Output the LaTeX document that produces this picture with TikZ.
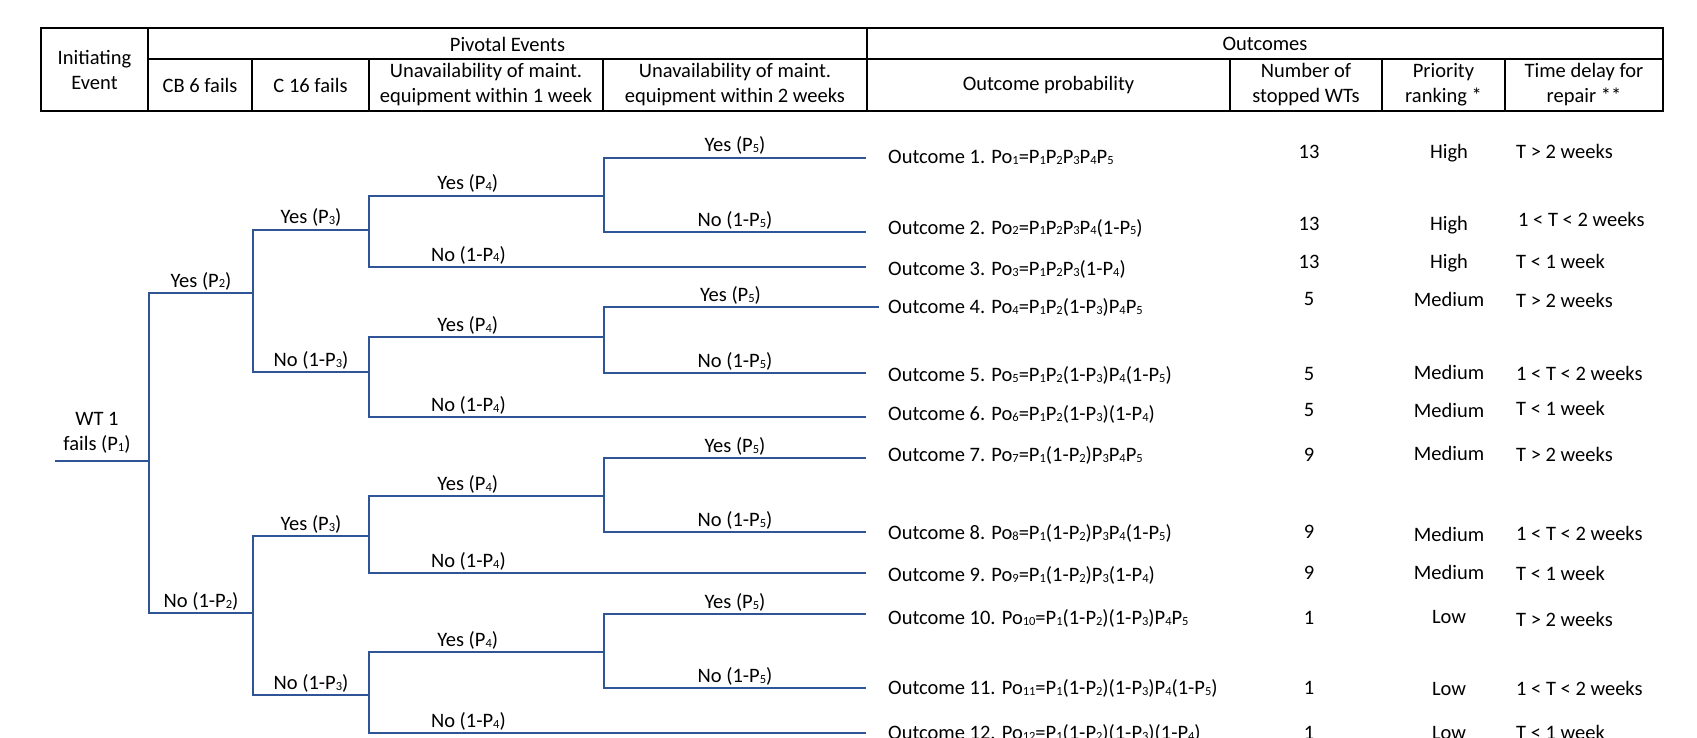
\documentclass[tikz,border=0pt]{standalone}
\usepackage{fontspec}
\setmainfont{Carlito}
\definecolor{treeblue}{RGB}{47,85,151}
\newcommand\ix[1]{\raisebox{-1pt}{\fontsize{12.5}{12.5}\selectfont #1}}

\begin{document}
\begin{tikzpicture}[x=1pt,y=-1pt,
  every node/.style={font=\fontsize{20.5}{25}\selectfont,inner sep=0pt},
  grid/.style={line width=2pt},
  branch/.style={draw=treeblue,line width=2pt},
  lab/.style={anchor=base,yshift=6pt},
  row/.style={anchor=base west},
  num/.style={anchor=base}]
  \useasboundingbox (0,0) rectangle (1697,738);

  % header table
  \draw[grid] (41,28) rectangle (1663,111);
  \draw[grid] (148,59) -- (1663,59);
  \draw[grid] (148,28) -- (148,111);
  \draw[grid] (867,28) -- (867,111);
  \draw[grid] (252,59) -- (252,111);
  \draw[grid] (369,59) -- (369,111);
  \draw[grid] (603,59) -- (603,111);
  \draw[grid] (1230,59) -- (1230,111);
  \draw[grid] (1382,59) -- (1382,111);
  \draw[grid] (1505,59) -- (1505,111);

  \node (ie) at (94.5,70) [align=center] {Initiating\\Event};
  \node (pe) at (507.5,44) {Pivotal Events};
  \node (oc) at (1265,44) {Outcomes};
  \node (cb) at (200,85) {CB 6 fails};
  \node (cc) at (310.5,85) {C 16 fails};
  \node (u1) at (486,85) [align=center] {Unavailability of maint.\\equipment within 1 week};
  \node (u2) at (735,85) [align=center] {Unavailability of maint.\\equipment within 2 weeks};
  \node (op) at (1048.5,85) {Outcome probability};
  \node (nw) at (1306,85) [align=center] {Number of\\stopped WTs};
  \node (pr) at (1443.5,85) [align=center] {Priority\\ranking *};
  \node (td) at (1584,85) [align=center] {Time delay for\\repair **};

  % event tree
  \node (wt) at (97,433) [align=center] {WT 1\\fails (P\ix{1})};
  \coordinate (w) at (55,461);
  \coordinate (r) at (149,461);
  \coordinate (Y) at (253,293);
  \coordinate (N) at (253,613);
  \coordinate (YY) at (369,230);
  \coordinate (YN) at (369,372);
  \coordinate (NY) at (369,536);
  \coordinate (NN) at (369,695);
  \coordinate (YYY) at (604,196);
  \coordinate (YYN) at (866,267);
  \coordinate (YNY) at (604,337);
  \coordinate (YNN) at (866,417);
  \coordinate (NYY) at (604,496);
  \coordinate (NYN) at (866,573);
  \coordinate (NNY) at (604,652);
  \coordinate (NNN) at (866,733);
  \coordinate (YYYY) at (866,158);
  \coordinate (YYYN) at (866,232);
  \coordinate (YNYY) at (879,307);
  \coordinate (YNYN) at (866,373);
  \coordinate (NYYY) at (866,458);
  \coordinate (NYYN) at (866,532);
  \coordinate (NNYY) at (866,614);
  \coordinate (NNYN) at (866,688);

  \draw[branch] (w) -- (r);
  \draw[branch] (r) |- (Y) node[lab,pos=.75] {Yes (P\ix2)};
  \draw[branch] (r) |- (N) node[lab,pos=.75] {No (1-P\ix2)};
  \draw[branch] (Y) |- (YY) node[lab,pos=.75] {Yes (P\ix3)};
  \draw[branch] (Y) |- (YN) node[lab,pos=.75] {No (1-P\ix3)};
  \draw[branch] (N) |- (NY) node[lab,pos=.75] {Yes (P\ix3)};
  \draw[branch] (N) |- (NN) node[lab,pos=.75] {No (1-P\ix3)};
  \draw[branch] (YY) |- (YYY) node[lab,pos=.71] {Yes (P\ix4)};
  \draw[branch] (YY) |- (YYN) node[lab,pos=.60] {No (1-P\ix4)};
  \draw[branch] (YN) |- (YNY) node[lab,pos=.71] {Yes (P\ix4)};
  \draw[branch] (YN) |- (YNN) node[lab,pos=.60] {No (1-P\ix4)};
  \draw[branch] (NY) |- (NYY) node[lab,pos=.71] {Yes (P\ix4)};
  \draw[branch] (NY) |- (NYN) node[lab,pos=.60] {No (1-P\ix4)};
  \draw[branch] (NN) |- (NNY) node[lab,pos=.71] {Yes (P\ix4)};
  \draw[branch] (NN) |- (NNN) node[lab,pos=.60] {No (1-P\ix4)};
  \draw[branch] (YYY) |- (YYYY) node[lab,pos=.75] {Yes (P\ix5)};
  \draw[branch] (YYY) |- (YYYN) node[lab,pos=.75] {No (1-P\ix5)};
  \draw[branch] (YNY) |- (YNYY) node[lab,pos=.73] {Yes (P\ix5)};
  \draw[branch] (YNY) |- (YNYN) node[lab,pos=.75] {No (1-P\ix5)};
  \draw[branch] (NYY) |- (NYYY) node[lab,pos=.75] {Yes (P\ix5)};
  \draw[branch] (NYY) |- (NYYN) node[lab,pos=.75] {No (1-P\ix5)};
  \draw[branch] (NNY) |- (NNYY) node[lab,pos=.75] {Yes (P\ix5)};
  \draw[branch] (NNY) |- (NNYN) node[lab,pos=.75] {No (1-P\ix5)};

  % outcomes
  \node[row] (o1) at (888,164) {Outcome 1. Po\ix{1}=P\ix1P\ix2P\ix3P\ix4P\ix5};
  \node[row] (o2) at (888,234) {Outcome 2. Po\ix{2}=P\ix1P\ix2P\ix3P\ix4(1-P\ix5)};
  \node[row] (o3) at (888,275) {Outcome 3. Po\ix{3}=P\ix1P\ix2P\ix3(1-P\ix4)};
  \node[row] (o4) at (888,313) {Outcome 4. Po\ix{4}=P\ix1P\ix2(1-P\ix3)P\ix4P\ix5};
  \node[row] (o5) at (888,381) {Outcome 5. Po\ix{5}=P\ix1P\ix2(1-P\ix3)P\ix4(1-P\ix5)};
  \node[row] (o6) at (888,420) {Outcome 6. Po\ix{6}=P\ix1P\ix2(1-P\ix3)(1-P\ix4)};
  \node[row] (o7) at (888,461) {Outcome 7. Po\ix{7}=P\ix1(1-P\ix2)P\ix3P\ix4P\ix5};
  \node[row] (o8) at (888,539) {Outcome 8. Po\ix{8}=P\ix1(1-P\ix2)P\ix3P\ix4(1-P\ix5)};
  \node[row] (o9) at (888,581) {Outcome 9. Po\ix{9}=P\ix1(1-P\ix2)P\ix3(1-P\ix4)};
  \node[row] (o10) at (888,624) {Outcome 10. Po\ix{10}=P\ix1(1-P\ix2)(1-P\ix3)P\ix4P\ix5};
  \node[row] (o11) at (888,694) {Outcome 11. Po\ix{11}=P\ix1(1-P\ix2)(1-P\ix3)P\ix4(1-P\ix5)};
  \node[row] (o12) at (888,739) {Outcome 12. Po\ix{12}=P\ix1(1-P\ix2)(1-P\ix3)(1-P\ix4)};

  \node[num] (n1) at (1309,159) {13};
  \node[num] (n2) at (1309,230) {13};
  \node[num] (n3) at (1309,268) {13};
  \node[num] (n4) at (1309,305) {5};
  \node[num] (n5) at (1309,380) {5};
  \node[num] (n6) at (1309,416) {5};
  \node[num] (n7) at (1309,461) {9};
  \node[num] (n8) at (1309,538) {9};
  \node[num] (n9) at (1309,579) {9};
  \node[num] (n10) at (1309,624) {1};
  \node[num] (n11) at (1309,694) {1};
  \node[num] (n12) at (1309,739) {1};

  \node[num] (k1) at (1449,159) {High};
  \node[num] (k2) at (1449,230) {High};
  \node[num] (k3) at (1449,269) {High};
  \node[num] (k4) at (1449,306) {Medium};
  \node[num] (k5) at (1449,379) {Medium};
  \node[num] (k6) at (1449,417) {Medium};
  \node[num] (k7) at (1449,460) {Medium};
  \node[num] (k8) at (1449,541) {Medium};
  \node[num] (k9) at (1449,579) {Medium};
  \node[num] (k10) at (1449,623) {Low};
  \node[num] (k11) at (1449,695) {Low};
  \node[num] (k12) at (1449,739) {Low};

  \node[row] (t1) at (1516,159) {T > 2 weeks};
  \node[row] (t2) at (1518,226) {1 < T < 2 weeks};
  \node[row] (t3) at (1516,268) {T < 1 week};
  \node[row] (t4) at (1516,307) {T > 2 weeks};
  \node[row] (t5) at (1516,380) {1 < T < 2 weeks};
  \node[row] (t6) at (1516,415) {T < 1 week};
  \node[row] (t7) at (1516,461) {T > 2 weeks};
  \node[row] (t8) at (1516,540) {1 < T < 2 weeks};
  \node[row] (t9) at (1516,580) {T < 1 week};
  \node[row] (t10) at (1516,626) {T > 2 weeks};
  \node[row] (t11) at (1516,695) {1 < T < 2 weeks};
  \node[row] (t12) at (1516,739) {T < 1 week};
\end{tikzpicture}
\end{document}
